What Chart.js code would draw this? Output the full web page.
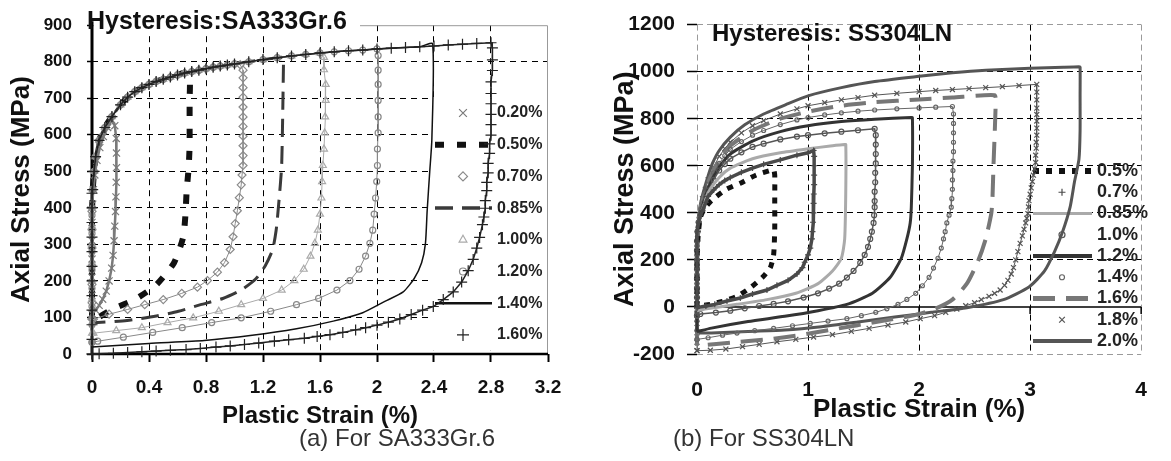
<!DOCTYPE html>
<html>
<head>
<meta charset="utf-8">
<script src="https://cdn.jsdelivr.net/npm/chart.js@4.4.0/dist/chart.umd.min.js"></script>
<style>
  body { margin: 0; background: #fff; }
  #wrap { position: relative; width: 1171px; height: 461px; overflow: hidden; font-family: "Liberation Sans", Arial, sans-serif; }
  canvas { position: absolute; top: 0; }
  #chartA { left: 0; }
  #chartB { left: 580px; }
  .caption { position: absolute; top: 426px; font-size: 24px; line-height: 24px; color: #333; white-space: nowrap; }
</style>
</head>
<body>
<div id="wrap">
  <canvas id="chartA" width="580" height="461"></canvas>
  <canvas id="chartB" width="591" height="461"></canvas>
  <div class="caption" style="left:299px">(a) For SA333Gr.6</div>
  <div class="caption" style="left:673px">(b) For SS304LN</div>
</div>
<script>
'use strict'

const FONT = '"Liberation Sans", Arial, sans-serif'
Chart.defaults.font.family = FONT
Chart.defaults.color = '#111'

// ---- (a) SA333Gr.6 : plastic strain (%) vs axial stress (MPa)

const xTicksA = [0, 0.4, 0.8, 1.2, 1.6, 2, 2.4, 2.8, 3.2]
const yTicksA = [0, 100, 200, 300, 400, 500, 600, 700, 800, 900]
const labelsA = ['0.20%', '0.50%', '0.70%', '0.85%', '1.00%', '1.20%', '1.40%', '1.60%']

// upper (loading) branch shared by the loops
const upperA = [[0.005,450],[0.015,500],[0.025,540],[0.05,585],[0.09,620],[0.14,650],[0.2,682],[0.25,703],[0.3,718],[0.35,729],[0.4,738],[0.45,746],[0.5,752],[0.55,758],[0.6,764],[0.65,769],[0.7,773],[0.75,777],[0.8,781],[0.85,785],[0.9,788],[0.95,791],[1.0,794],[1.1,800],[1.2,806],[1.3,811],[1.4,816],[1.5,820],[1.6,824],[1.7,827],[1.8,830],[1.9,832],[2.0,835],[2.1,837],[2.2,839],[2.3,841],[2.4,843],[2.5,846],[2.6,848],[2.7,850],[2.8,852]]

const loop020 = [[0,110],[0,160],[0,210],[0,260],[0,310],[0,360],[0.005,410],[0.01,450],[0.02,490],[0.035,530],[0.055,565],[0.08,595],[0.11,620],[0.14,640],[0.16,625],[0.17,590],[0.172,550],[0.172,510],[0.17,470],[0.168,430],[0.165,390],[0.16,350],[0.155,310],[0.148,270],[0.138,235],[0.12,200],[0.1,172],[0.075,150],[0.05,133],[0.025,120],[0,110]]

const rise050 = [[0,95],[0,150],[0,200],[0,260],[0,320],[0,380]]
const peak050 = 0.68
const fall050 = [[0.685,755],[0.685,695],[0.685,632],[0.685,570],[0.678,509],[0.664,445],[0.656,383],[0.64,320],[0.576,250],[0.45,189],[0.3,149],[0.14,122],[0.04,99],[0,95]]

const rise070 = [[0,95],[0,140],[0,190],[0,240],[0,290],[0,340],[0,390]]
const peak070 = 1.0
const fall070 = [[1.04,792],[1.06,777],[1.06,756],[1.06,729],[1.06,703],[1.06,676],[1.06,649],[1.06,623],[1.06,596],[1.06,570],[1.06,543],[1.06,516],[1.053,490],[1.047,463],[1.034,428],[1.02,392],[1.005,357],[0.99,321],[0.97,286],[0.93,250],[0.88,224],[0.81,201],[0.74,183],[0.63,166],[0.5,149],[0.37,135],[0.25,122],[0.12,109],[0.01,95]]

const rise085 = [[0,86],[0,200],[0,380]]
const peak085 = 1.3
const fall085 = [[1.344,812],[1.344,800],[1.331,516],[1.31,410],[1.292,338],[1.267,285],[1.215,241],[1.15,206],[1.047,175],[0.918,152],[0.762,135],[0.607,117],[0.452,104],[0.246,92],[0.04,86],[0,86]]

const rise100 = [[0,57],[0,100],[0,150],[0,200],[0,250],[0,300],[0,350],[0,400]]
const peak100 = 1.6
const fall100 = [[1.628,812],[1.628,778],[1.64,738],[1.64,694],[1.636,649],[1.633,605],[1.628,561],[1.62,516],[1.615,472],[1.61,427],[1.6,383],[1.585,339],[1.564,303],[1.533,268],[1.486,232],[1.42,201],[1.331,175],[1.2,152],[1.047,135],[0.89,117],[0.71,99],[0.53,86],[0.35,72],[0.17,64],[0.01,57]]

const rise120 = [[0,32],[0,80],[0,130],[0,180],[0,230],[0,280],[0,330],[0,380]]
const peak120 = 2.0
const fall120 = [[2.008,817],[2.008,777],[2.008,738],[2.008,694],[2.008,649],[2.008,605],[2.003,561],[2.003,516],[1.998,472],[1.99,427],[1.98,383],[1.97,339],[1.95,303],[1.92,268],[1.874,232],[1.81,201],[1.719,175],[1.59,152],[1.435,135],[1.254,117],[1.047,99],[0.84,86],[0.633,72],[0.426,59],[0.22,46],[0.04,35],[0,32]]

const rise140 = [[0,19],[0,400]]
const peak140 = 2.3
const fall140 = [[2.39,849],[2.385,588],[2.37,499],[2.352,392],[2.34,303],[2.313,250],[2.26,206],[2.184,170],[2.055,144],[1.9,113],[1.693,90],[1.435,69],[1.124,51],[0.788,37],[0.4,29],[0,19]]

const rise160 = [[0,0],[0,40],[0,80],[0,120],[0,160],[0,200],[0,240],[0,280],[0,320],[0,360],[0,400],[0,440]]
const peak160 = 2.8
const fall160 = [[2.81,838],[2.81,805],[2.81,776],[2.8,745],[2.8,713],[2.8,685],[2.8,656],[2.8,628],[2.8,599],[2.79,575],[2.79,549],[2.78,522],[2.78,496],[2.77,470],[2.77,447],[2.76,420],[2.76,399],[2.75,375],[2.74,354],[2.72,319],[2.7,290],[2.675,259],[2.64,228],[2.594,197],[2.535,170],[2.465,149],[2.395,130],[2.32,120],[2.24,108],[2.16,96],[2.08,87],[2.0,79],[1.92,72],[1.85,66],[1.76,59],[1.67,53],[1.58,48],[1.49,43],[1.38,39],[1.28,35],[1.17,30],[1.07,26],[0.97,22],[0.87,19],[0.76,15],[0.66,12],[0.55,10],[0.45,8],[0.35,6],[0.25,4],[0.15,2],[0.05,1],[0,0]]

// ---- (b) SS304LN

const xTicksB = [0, 1, 2, 3, 4]
const yTicksB = [-200, 0, 200, 400, 600, 800, 1000, 1200]
const labelsB = ['0.5%', '0.7%', '0.85%', '1.0%', '1.2%', '1.4%', '1.6%', '1.8%', '2.0%']

const loop05 = [[0,0],[0,200],[0.01,300],[0.03,380],[0.07,420],[0.13,452],[0.26,499],[0.39,526],[0.53,560],[0.66,580],[0.69,583],[0.7,560],[0.7,450],[0.7,330],[0.69,221],[0.66,167],[0.59,126],[0.49,85],[0.36,45],[0.23,24],[0.12,11],[0,4]]

const loop07 = [[0,-3],[0,40],[0,80],[0,120],[0,160],[0,200],[0,240],[0,280],[0.005,320],[0.015,360],[0.03,390],[0.05,410],[0.08,445],[0.1,470],[0.15,497],[0.2,520],[0.25,537],[0.3,550],[0.4,572],[0.5,590],[0.6,606],[0.75,625],[0.9,645],[1.0,655],[1.05,665],[1.055,640],[1.055,600],[1.055,560],[1.055,520],[1.052,480],[1.05,440],[1.048,400],[1.045,360],[1.04,320],[1.035,289],[1.02,250],[1.0,221],[0.97,190],[0.95,167],[0.9,140],[0.82,113],[0.72,92],[0.63,72],[0.5,55],[0.39,38],[0.27,25],[0.16,11],[0.08,4],[0,-3]]

const loop085 = [[0,-16],[0,200],[0.01,330],[0.03,390],[0.05,415],[0.1,485],[0.2,550],[0.3,590],[0.5,630],[0.75,655],[1.0,672],[1.2,684],[1.33,690],[1.34,690],[1.34,500],[1.33,289],[1.3,207],[1.22,153],[1.09,99],[0.89,58],[0.63,31],[0.36,11],[0.07,-9],[0,-16]]

const loop10 = [[0,-37],[0,0],[0,40],[0,80],[0,120],[0,160],[0,200],[0,240],[0,280],[0.005,320],[0.015,360],[0.03,395],[0.05,420],[0.08,465],[0.1,495],[0.15,540],[0.2,580],[0.25,607],[0.3,630],[0.4,657],[0.5,680],[0.6,694],[0.75,712],[0.9,724],[1.0,730],[1.15,738],[1.3,745],[1.45,751],[1.6,757],[1.61,730],[1.61,690],[1.61,650],[1.61,610],[1.605,570],[1.605,530],[1.6,490],[1.6,450],[1.6,424],[1.595,390],[1.59,357],[1.575,320],[1.56,289],[1.54,255],[1.51,221],[1.47,187],[1.41,153],[1.35,125],[1.28,99],[1.19,78],[1.09,58],[0.96,40],[0.82,24],[0.69,13],[0.56,4],[0.43,-6],[0.3,-16],[0.17,-24],[0.03,-30],[0,-37]]

const loop12 = [[0,-105],[0,200],[0.01,330],[0.03,400],[0.05,430],[0.1,505],[0.2,595],[0.3,650],[0.5,705],[0.75,745],[1.0,770],[1.3,788],[1.6,798],[1.93,805],[1.94,804],[1.94,600],[1.93,424],[1.92,357],[1.89,289],[1.84,207],[1.74,126],[1.58,58],[1.35,11],[1.09,-16],[0.79,-40],[0.46,-62],[0.13,-90],[0,-105]]

const loop14 = [[0,-138],[0,-100],[0,-60],[0,-20],[0,20],[0,60],[0,100],[0,140],[0,180],[0,220],[0,260],[0.005,300],[0.01,340],[0.02,380],[0.035,415],[0.05,440],[0.075,485],[0.1,520],[0.15,570],[0.2,610],[0.25,643],[0.3,670],[0.4,703],[0.5,730],[0.6,750],[0.75,775],[0.9,795],[1.0,805],[1.15,816],[1.3,825],[1.45,832],[1.6,837],[1.8,842],[2.0,846],[2.15,849],[2.3,852],[2.31,820],[2.31,780],[2.31,740],[2.31,700],[2.31,660],[2.305,620],[2.305,580],[2.3,540],[2.3,500],[2.295,460],[2.29,424],[2.27,390],[2.25,357],[2.235,320],[2.22,289],[2.2,250],[2.17,207],[2.13,165],[2.09,126],[2.03,90],[1.97,58],[1.89,32],[1.81,11],[1.71,-8],[1.61,-23],[1.48,-37],[1.35,-50],[1.18,-60],[1.02,-70],[0.86,-80],[0.69,-91],[0.52,-101],[0.36,-111],[0.23,-120],[0.1,-131],[0,-138]]

const loop16 = [[0,-165],[0,200],[0.01,350],[0.03,420],[0.05,450],[0.1,530],[0.2,625],[0.3,685],[0.5,750],[0.75,800],[1.0,830],[1.3,855],[1.6,870],[2.0,882],[2.3,890],[2.68,900],[2.69,870],[2.67,600],[2.66,452],[2.65,397],[2.6,289],[2.53,194],[2.43,99],[2.3,31],[2.14,-9],[1.94,-37],[1.61,-64],[1.28,-91],[0.95,-118],[0.63,-138],[0.3,-152],[0,-165]]

const loop18 = [[0,-186],[0,-150],[0,-110],[0,-70],[0,-30],[0,10],[0,50],[0,90],[0,130],[0,170],[0,210],[0,250],[0.005,290],[0.01,330],[0.02,370],[0.035,410],[0.05,460],[0.075,500],[0.1,540],[0.15,595],[0.2,640],[0.25,673],[0.3,700],[0.4,740],[0.5,770],[0.6,792],[0.75,820],[0.9,842],[1.0,855],[1.15,868],[1.3,880],[1.45,890],[1.6,900],[1.8,908],[2.0,915],[2.15,920],[2.3,924],[2.45,928],[2.6,932],[2.75,936],[2.9,941],[3.06,946],[3.06,913],[3.06,880],[3.06,845],[3.06,818],[3.06,790],[3.06,760],[3.06,730],[3.055,700],[3.055,675],[3.05,645],[3.05,614],[3.04,587],[3.03,560],[3.02,533],[3.01,506],[3.0,479],[2.99,452],[2.985,425],[2.98,397],[2.97,377],[2.96,357],[2.945,330],[2.93,302],[2.91,270],[2.89,235],[2.87,200],[2.85,167],[2.83,140],[2.8,113],[2.77,92],[2.73,72],[2.68,58],[2.63,45],[2.56,31],[2.5,18],[2.42,5],[2.34,-9],[2.24,-23],[2.14,-37],[2.01,-50],[1.88,-64],[1.72,-77],[1.55,-91],[1.39,-104],[1.22,-118],[1.05,-128],[0.89,-138],[0.72,-148],[0.56,-159],[0.41,-169],[0.26,-179],[0.12,-184],[0,-186]]

const loop20 = [[0,-111],[0,100],[0.01,300],[0.026,422],[0.05,476],[0.1,557],[0.14,611],[0.2,665],[0.3,722],[0.43,774],[0.6,820],[0.8,860],[1.0,897],[1.3,932],[1.6,958],[2.0,980],[2.3,995],[2.6,1006],[3.0,1014],[3.3,1019],[3.44,1021],[3.45,1020],[3.45,900],[3.45,750],[3.44,628],[3.4,533],[3.36,424],[3.29,316],[3.22,235],[3.13,153],[2.99,85],[2.76,31],[2.43,-3],[2.11,-23],[1.78,-43],[1.45,-64],[1.12,-84],[0.79,-98],[0.46,-104],[0.13,-111],[0,-111]]

// ---- helpers

const loopA = (rise, peak, fall) => [...rise, ...upperA.filter(p => p[0] <= peak), ...fall]
const xy = pts => pts.map(([x, y]) => ({ x, y }))

const lineSet = (label, pts, color, width, dash, order, legendWidth) => ({
    label, data: xy(pts), order,
    showLine: true, borderColor: color, borderWidth: width, borderDash: dash,
    tension: 0.2, pointRadius: 0, clip: false, legendWidth
})

const markSet = (label, pts, color, style, radius, order, lineWidth) => ({
    label, data: xy(pts), order,
    showLine: true, borderColor: color, borderWidth: lineWidth || 1,
    pointStyle: style, pointRadius: radius, pointBorderColor: color,
    pointBackgroundColor: 'rgba(0,0,0,0)', pointBorderWidth: 1.2, clip: false
})

const drawLegend = (ctx, sets, lg) => {
    sets.forEach((ds, i) => {
        const y = lg.top + i * lg.step
        ctx.save()
        if (ds.pointRadius) {
            ctx.strokeStyle = ds.pointBorderColor
            ctx.fillStyle = 'rgba(0,0,0,0)'
            ctx.lineWidth = ds.pointBorderWidth
            Chart.helpers.drawPoint(ctx, { pointStyle: ds.pointStyle, radius: ds.pointRadius + 0.5, rotation: 0, borderWidth: ds.pointBorderWidth }, lg.mark, y)
        } else {
            ctx.strokeStyle = ds.borderColor
            ctx.lineWidth = ds.legendWidth || ds.borderWidth
            ctx.setLineDash(ds.borderDash || [])
            ctx.beginPath()
            ctx.moveTo(lg.x1, y)
            ctx.lineTo(lg.x2, y)
            ctx.stroke()
        }
        ctx.restore()
        ctx.fillStyle = '#222'
        ctx.font = lg.font
        ctx.textBaseline = 'middle'
        ctx.textAlign = 'left'
        ctx.fillText(ds.label, lg.text, y)
    })
}

const setTicks = vals => s => { s.ticks = vals.map(v => ({ value: v })) }

// ---- chart (a)

const legendA = { x1: 435, x2: 492, mark: 463, text: 497, top: 113, step: 31.7, font: 'bold 16px ' + FONT }

const frameA = {
    id: 'frameA',
    beforeDatasetsDraw(chart) {
        const { ctx, chartArea: a } = chart
        ctx.save()
        ctx.fillStyle = '#fff'
        ctx.fillRect(428, 97, a.right - 429, 253)
        ctx.strokeStyle = '#999'
        ctx.lineWidth = 1
        ctx.beginPath()
        ctx.moveTo(a.left, a.top + 0.5)
        ctx.lineTo(a.right - 0.5, a.top + 0.5)
        ctx.lineTo(a.right - 0.5, a.bottom)
        ctx.stroke()
        ctx.strokeStyle = '#000'
        ctx.lineWidth = 3
        ctx.beginPath()
        ctx.moveTo(a.left, a.top - 4)
        ctx.lineTo(a.left, a.bottom + 1)
        ctx.stroke()
        ctx.lineWidth = 2.5
        ctx.beginPath()
        ctx.moveTo(a.left, a.bottom)
        ctx.lineTo(a.right, a.bottom)
        ctx.stroke()
        ctx.restore()
        drawLegend(ctx, chart.data.datasets, legendA)
    },
    afterDatasetsDraw(chart) {
        const { ctx } = chart
        ctx.save()
        ctx.fillStyle = '#fff'
        ctx.fillRect(94, 8, 266, 24)
        ctx.fillStyle = '#111'
        ctx.font = 'bold 25px ' + FONT
        ctx.textBaseline = 'alphabetic'
        ctx.fillText('Hysteresis:SA333Gr.6', 87, 29)
        ctx.restore()
    }
}

const gridA = (lo, hi) => c => (c.tick && (c.tick.value === lo || c.tick.value === hi)) ? 'rgba(0,0,0,0)' : '#000'

new Chart(document.querySelector('#chartA'), {
    type: 'scatter',
    data: {
        datasets: [
            markSet(labelsA[0], loop020, '#7a7a7a', 'crossRot', 5, 1, 2.5),
            lineSet(labelsA[1], loopA(rise050, peak050, fall050), '#111', 6, [9, 13], 5, 6),
            markSet(labelsA[2], loopA(rise070, peak070, fall070), '#8a8a8a', 'rectRot', 4, 2),
            lineSet(labelsA[3], loopA(rise085, peak085, fall085), '#3a3a3a', 3, [18, 9], 6, 3.5),
            markSet(labelsA[4], loopA(rise100, peak100, fall100), '#aaaaaa', 'triangle', 4, 4),
            markSet(labelsA[5], loopA(rise120, peak120, fall120), '#888888', 'circle', 3, 3),
            lineSet(labelsA[6], loopA(rise140, peak140, fall140), '#111', 1.5, [], 7, 2.5),
            markSet(labelsA[7], loopA(rise160, peak160, fall160), '#222', 'cross', 5.5, 0, 1.5)
        ]
    },
    options: {
        responsive: false,
        animation: false,
        layout: { padding: { left: 0, right: 32, top: 16, bottom: 30 } },
        plugins: { legend: { display: false }, tooltip: { enabled: false } },
        scales: {
            x: {
                type: 'linear', min: 0, max: 3.2,
                afterBuildTicks: setTicks(xTicksA),
                afterFit: s => { s.height = 77 },
                ticks: { padding: 14, font: { size: 19, weight: 'bold' }, color: '#111', callback: v => String(v) },
                grid: { color: gridA(0, 3.2), lineWidth: 1, tickLength: 8, tickWidth: 2, tickColor: '#000', tickBorderDash: [] },
                border: { display: false, dash: [6, 5] },
                title: { display: true, text: 'Plastic Strain (%)', font: { size: 24, weight: 'bold' }, color: '#111', padding: { top: 0, bottom: 0 } }
            },
            y: {
                type: 'linear', min: 0, max: 900,
                afterBuildTicks: setTicks(yTicksA),
                afterFit: s => { s.width = 92 },
                ticks: { padding: 15, font: { size: 17, weight: 'bold' }, color: '#111', callback: v => String(v) },
                grid: { color: gridA(0, 900), lineWidth: 1, tickLength: 5, tickWidth: 1.5, tickColor: '#000', tickBorderDash: [] },
                border: { display: false, dash: [6, 5] },
                title: { display: true, text: 'Axial Stress (MPa)', font: { size: 26, weight: 'bold' }, color: '#111', padding: { top: 6, bottom: 0 } }
            }
        }
    },
    plugins: [frameA]
})

// ---- chart (b)

const legendB = { x1: 453, x2: 512, mark: 482, text: 517, top: 171, step: 21.25, font: 'bold 18px ' + FONT }

const frameB = {
    id: 'frameB',
    beforeDatasetsDraw(chart) {
        const { ctx, chartArea: a, scales } = chart
        const y0 = scales.y.getPixelForValue(0)
        ctx.save()
        ctx.strokeStyle = '#000'
        ctx.lineWidth = 1.5
        ctx.beginPath()
        ctx.moveTo(a.left, y0)
        ctx.lineTo(a.right, y0)
        xTicksB.filter(v => v > 0).forEach(v => {
            const x = scales.x.getPixelForValue(v)
            ctx.moveTo(x, y0)
            ctx.lineTo(x, y0 + 7)
        })
        ctx.stroke()
        ctx.restore()
        drawLegend(ctx, chart.data.datasets, legendB)
    },
    afterDatasetsDraw(chart) {
        const { ctx } = chart
        ctx.save()
        ctx.fillStyle = '#111'
        ctx.font = 'bold 24px ' + FONT
        ctx.textBaseline = 'alphabetic'
        ctx.fillText('Hysteresis: SS304LN', 132, 41)
        ctx.restore()
    }
}

const gridB = (edges, hidden) => c => {
    const v = c.tick ? c.tick.value : null
    if (v === hidden) return 'rgba(0,0,0,0)'
    return edges.includes(v) ? '#9a9a9a' : '#000'
}

new Chart(document.querySelector('#chartB'), {
    type: 'scatter',
    data: {
        datasets: [
            lineSet(labelsB[0], loop05, '#111', 5, [6, 7], 2, 6),
            markSet(labelsB[1], loop07, '#4a4a4a', 'cross', 3, 1, 3.5),
            lineSet(labelsB[2], loop085, '#aaaaaa', 3, [], 3),
            markSet(labelsB[3], loop10, '#555', 'circle', 2.5, 4, 1.5),
            lineSet(labelsB[4], loop12, '#333', 3, [], 5, 4),
            markSet(labelsB[5], loop14, '#666', 'circle', 2, 6),
            lineSet(labelsB[6], loop16, '#777', 4, [22, 11], 7, 5),
            markSet(labelsB[7], loop18, '#555', 'crossRot', 3.5, 8),
            lineSet(labelsB[8], loop20, '#555', 3, [], 9, 4)
        ]
    },
    options: {
        responsive: false,
        animation: false,
        layout: { padding: { left: 0, right: 14, top: 7, bottom: 36 } },
        plugins: { legend: { display: false }, tooltip: { enabled: false } },
        scales: {
            x: {
                type: 'linear', min: 0, max: 4,
                afterBuildTicks: setTicks(xTicksB),
                afterFit: s => { s.height = 71 },
                ticks: { padding: 24, font: { size: 21, weight: 'bold' }, color: '#111', callback: v => String(v) },
                grid: { color: gridB([0, 4], null), lineWidth: 1, drawTicks: false },
                border: { display: false, dash: [6, 4] },
                title: { display: true, text: 'Plastic Strain (%)', font: { size: 26, weight: 'bold' }, color: '#111', padding: { top: 0, bottom: 0 } }
            },
            y: {
                type: 'linear', min: -200, max: 1200,
                afterBuildTicks: setTicks(yTicksB),
                afterFit: s => { s.width = 117 },
                ticks: { padding: 12, font: { size: 21, weight: 'bold' }, color: '#111', callback: v => String(v) },
                grid: { color: gridB([-200, 1200], 0), lineWidth: 1, tickLength: 10, tickWidth: 1.5, tickColor: '#000', tickBorderDash: [] },
                border: { display: false, dash: [6, 4] },
                title: { display: true, text: 'Axial Stress (MPa)', font: { size: 27, weight: 'bold' }, color: '#111', padding: { top: 29, bottom: 0 } }
            }
        }
    },
    plugins: [frameB]
})
</script>
</body>
</html>
